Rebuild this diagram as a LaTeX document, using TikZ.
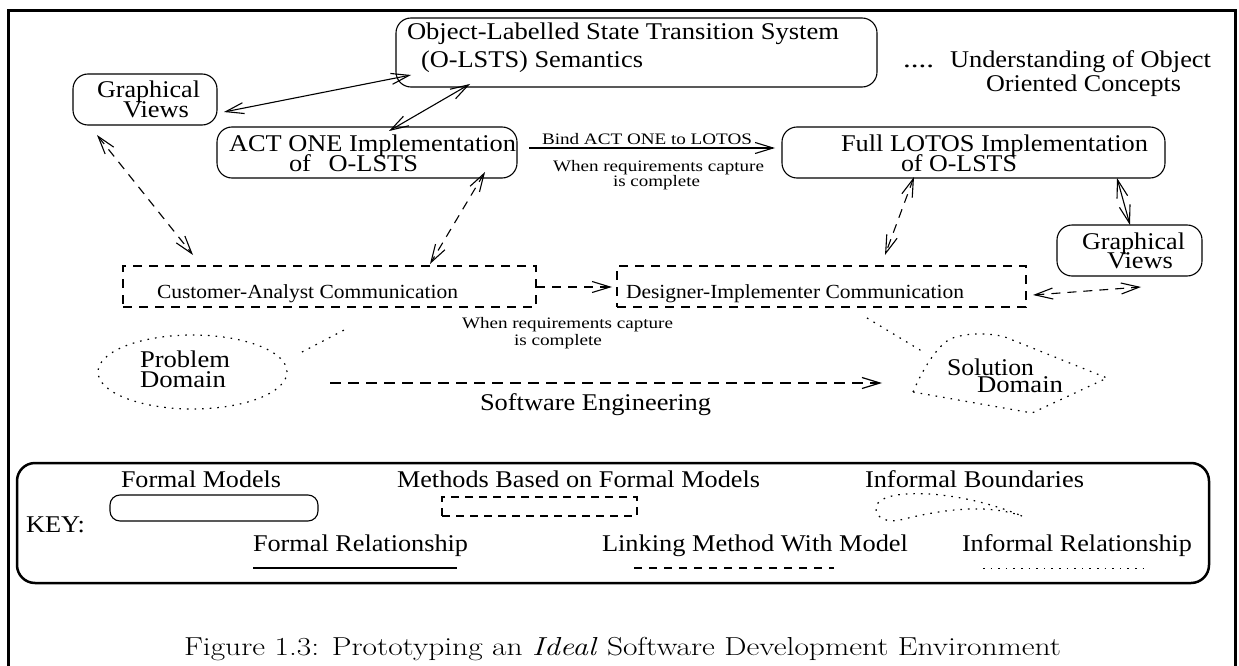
\documentclass[tikz,border=0pt]{standalone}
\usepackage{fontspec}
\usepackage{graphicx}
\usetikzlibrary{arrows.meta}
\newfontfamily\tms{Liberation Serif}
\newcommand\sx[2]{\resizebox{#1pt}{\height}{#2}}
\begin{document}
\begin{tikzpicture}[x=1pt,y=-1pt,
  thin line/.style={line width=1.1pt},
  >={Straight Barb[length=18pt,width=11pt]},
  fmodel/.style={draw, thin line, rounded corners=15pt, inner sep=0pt},
  mbox/.style={draw, thin line, dash pattern=on 9pt off 7pt, inner sep=0pt},
  frel/.style={thin line, <->},
  lnk/.style={thin line, dash pattern=on 9pt off 7pt},
  infr/.style={line width=1.2pt, dash pattern=on 1.6pt off 6pt},
  big/.style={anchor=base west, inner sep=0pt, outer sep=0pt, font=\tms\fontsize{24}{26}\selectfont},
  mid/.style={anchor=base west, inner sep=0pt, outer sep=0pt, font=\tms\fontsize{20}{22}\selectfont},
  sml/.style={anchor=base west, inner sep=0pt, outer sep=0pt, font=\tms\fontsize{16}{18}\selectfont},
  captext/.style={anchor=base west, inner sep=0pt, outer sep=0pt, font=\fontsize{26}{28}\selectfont}
]
\useasboundingbox (0,0) rectangle (1239,666);
\fill[white] (0,0) rectangle (1239,666);
% outer frame
\draw[line width=3pt] (8.5,666) -- (8.5,10.5) -- (1235.5,10.5) -- (1235.5,666);

% formal model boxes
\node[fmodel, minimum width=481pt, minimum height=69pt] (olsts) at (636.5,52.5) {};
\node[fmodel, minimum width=144pt, minimum height=51pt] (gvL) at (145,99.5) {};
\node[fmodel, minimum width=300pt, minimum height=51pt] (act) at (367,152.5) {};
\node[fmodel, minimum width=383pt, minimum height=51pt] (lotos) at (973.5,152.5) {};
\node[fmodel, minimum width=145pt, minimum height=51pt] (gvR) at (1129.5,250.5) {};
% method boxes
\node[mbox, minimum width=413pt, minimum height=41pt] (cust) at (329.5,286.5) {};
\node[mbox, minimum width=409pt, minimum height=41pt] (des) at (821.5,286.5) {};

% texts
\node[big] (t1) at (407,40) {\sx{432}{Object-Labelled State Transition System}};
\node[big] (t2) at (421,68) {\sx{222}{(O-LSTS) Semantics}};
\node[big] (t3) at (97,98) {\sx{103}{Graphical}};
\node[big] (t4) at (123,118) {\sx{66}{Views}};
\node[big] (t5) at (229,151) {\sx{287}{ACT ONE Implementation}};
\node[big] (t6) at (289,171) {\sx{129}{of\hspace{16pt}O-LSTS}};
\node[big] (t7) at (841,151) {\sx{307}{Full LOTOS Implementation}};
\node[big] (t8) at (901,171) {\sx{116}{of O-LSTS}};
\node[big] (t9) at (1082,249) {\sx{103}{Graphical}};
\node[big] (t10) at (1107,268) {\sx{66}{Views}};
\node[big] (t11) at (903,68) {\sx{31}{....}};
\node[big] (t12) at (950,68) {\sx{261}{Understanding of Object}};
\node[big] (t13) at (986,92) {\sx{195}{Oriented Concepts}};
\node[mid] (t14) at (157,298) {\sx{301}{Customer-Analyst Communication}};
\node[mid] (t15) at (626,298) {\sx{338}{Designer-Implementer Communication}};
\node[sml] (t16) at (542,144) {\sx{210}{Bind ACT ONE to LOTOS}};
\node[sml] (t17) at (553,171) {\sx{211}{When requirements capture}};
\node[sml] (t18) at (613,186) {\sx{87}{is complete}};
\node[sml] (t19) at (462,328) {\sx{211}{When requirements capture}};
\node[sml] (t20) at (514,345) {\sx{88}{is complete}};
\node[big] (t21) at (140,367) {\sx{90}{Problem}};
\node[big] (t22) at (140,387) {\sx{86}{Domain}};
\node[big] (t23) at (480,410) {\sx{231}{Software Engineering}};
\node[big] (t24) at (947,375) {\sx{87}{Solution}};
\node[big] (t25) at (977,392) {\sx{86}{Domain}};

% connectors: formal relationships
\coordinate (a1s) at (224,112); \coordinate (a1e) at (411,75);
\draw[frel] (a1s) -- (a1e);
\coordinate (a2s) at (389,131); \coordinate (a2e) at (470,84);
\draw[frel] (a2s) -- (a2e);
\coordinate (a3s) at (1117,178); \coordinate (a3e) at (1130,225);
\draw[frel] (a3s) -- (a3e);
\coordinate (bs) at (529,148); \coordinate (be) at (775,148);
\draw[thin line, ->] (bs) -- (be);

% linking method with model
\coordinate (d1s) at (97,135); \coordinate (d1e) at (193,255);
\draw[lnk, <->] (d1s) -- (d1e);
\coordinate (d2s) at (485,172); \coordinate (d2e) at (430,264);
\draw[lnk, <->] (d2s) -- (d2e);
\coordinate (d3s) at (914,177); \coordinate (d3e) at (885,255);
\draw[lnk, <->] (d3s) -- (d3e);
\coordinate (d4s) at (536,287); \coordinate (d4e) at (612,287);
\draw[lnk, ->] (d4s) -- (d4e);
\coordinate (d5s) at (1033,295); \coordinate (d5e) at (1141,287);
\draw[lnk, <->] (d5s) -- (d5e);
\coordinate (d6s) at (330,383); \coordinate (d6e) at (882,383);
\draw[lnk, line width=1.2pt, dash pattern=on 11pt off 7pt, ->] (d6s) -- (d6e);

% informal relationships
\coordinate (p1s) at (302,352); \coordinate (p1e) at (348,328);
\draw[infr] (p1s) -- (p1e);
\coordinate (p2s) at (867,318); \coordinate (p2e) at (925,353);
\draw[infr] (p2s) -- (p2e);

% informal boundaries
\draw[infr] (192.5,372) ellipse [x radius=94.5pt, y radius=37pt];
\draw[infr] (913,392) .. controls (924,366) and (938,346) .. (950,339)
  .. controls (968,332) and (990,333) .. (1005,337) -- (1107,378) -- (1032,413) -- cycle;

% key
\node[draw, line width=2.5pt, rounded corners=18pt, minimum width=1192pt, minimum height=120pt, inner sep=0pt] (key) at (613,523) {};
\node[big] (k1) at (121,487) {\sx{160}{Formal Models}};
\node[big] (k2) at (26,532) {\sx{59}{KEY:}};
\node[big] (k3) at (253,551) {\sx{215}{Formal Relationship}};
\node[big] (k4) at (397,487) {\sx{363}{Methods Based on Formal Models}};
\node[big] (k5) at (602,551) {\sx{306}{Linking Method With Model}};
\node[big] (k6) at (865,487) {\sx{219}{Informal Boundaries}};
\node[big] (k7) at (962,551) {\sx{230}{Informal Relationship}};
\node[fmodel, rounded corners=10pt, minimum width=208pt, minimum height=26pt] (kfm) at (214,508) {};
\node[mbox, dash pattern=on 8pt off 6pt, minimum width=195pt, minimum height=19pt] (kmb) at (539.5,506.5) {};
\draw[infr] (1022,516) .. controls (985,503) and (940,510) .. (900,520)
  .. controls (880,524) and (872,512) .. (878,503)
  .. controls (890,488) and (960,490) .. (1022,516);
\coordinate (kl1s) at (253,568); \coordinate (kl1e) at (457,568);
\draw[thin line] (kl1s) -- (kl1e);
\coordinate (kl2s) at (634,568); \coordinate (kl2e) at (834,568);
\draw[thin line, dash pattern=on 8pt off 7pt] (kl2s) -- (kl2e);
\coordinate (kl3s) at (983,568); \coordinate (kl3e) at (1150,568);
\draw[line width=1pt, dash pattern=on 1.6pt off 6pt] (kl3s) -- (kl3e);

% caption
\node[captext] (caption) at (184,655) {\sx{877}{Figure 1.3: Prototyping an \textit{Ideal} Software Development Environment}};
\end{tikzpicture}
\end{document}
